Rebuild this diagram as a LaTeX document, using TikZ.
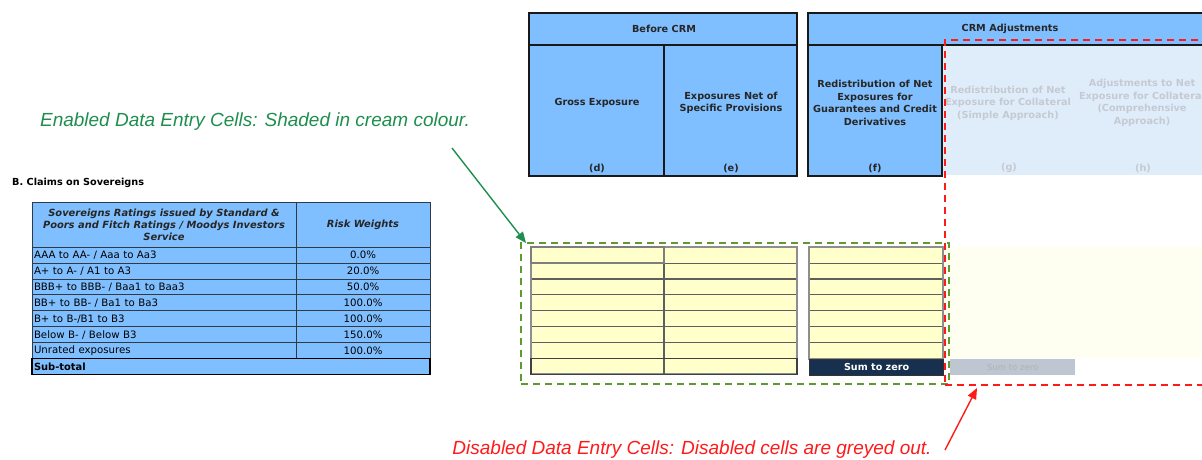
\documentclass[tikz,border=0pt]{standalone}
\usepackage{fontspec}
\newfontfamily\tabfont{DejaVu Sans}
\newfontfamily\notefont{Liberation Sans}
\usetikzlibrary{arrows.meta}
\definecolor{hdrblue}{HTML}{80BFFF}
\definecolor{cream}{HTML}{FFFFCC}
\definecolor{paleblue}{HTML}{DFEDFB}
\definecolor{palecream}{HTML}{FEFEF1}
\definecolor{greytxt}{HTML}{C5CAD2}
\definecolor{navy}{HTML}{17304F}
\definecolor{greycell}{HTML}{BEC6D2}
\definecolor{olive}{HTML}{5E9A30}
\definecolor{notegreen}{HTML}{1E8E4E}
\definecolor{notered}{HTML}{FF1A1A}
\definecolor{gridgrey}{HTML}{5E5E5E}
\definecolor{tabline}{HTML}{2E3A48}
\begin{document}
\begin{tikzpicture}[x=1pt,y=-1pt,
  hdrbox/.style={draw=black!90, line width=1.3pt, fill=hdrblue, anchor=north west,
    inner sep=0pt, outer sep=0pt},
  hdrtxt/.style={font=\tabfont\bfseries\fontsize{9.7}{12.6}\selectfont, align=center,
    inner sep=0pt, text=black!85},
  offtxt/.style={hdrtxt, text=greytxt},
  creamcell/.style={draw=gridgrey, line width=1.1pt, fill=cream, anchor=north west,
    inner sep=0pt, outer sep=0pt, minimum height=15.9pt},
  rowlbl/.style={draw=tabline, line width=0.9pt, fill=hdrblue, anchor=north west,
    inner xsep=2pt, inner ysep=0pt, outer sep=0pt, minimum height=15.9pt,
    text width=260pt, align=left, font=\tabfont\fontsize{10.2}{11}\selectfont},
  rowval/.style={draw=tabline, line width=0.9pt, fill=hdrblue, anchor=north west,
    inner sep=0pt, outer sep=0pt, minimum height=15.9pt, minimum width=134pt,
    font=\tabfont\fontsize{10.2}{11}\selectfont},
  note/.style={font=\notefont\itshape\fontsize{19}{22}\selectfont, inner sep=0pt},
  greenbox/.style={draw=olive, line width=1.5pt, dash pattern=on 7pt off 5pt},
  redbox/.style={draw=notered, line width=1.6pt, dash pattern=on 7pt off 5pt},
  callout/.style={line width=1.4pt, -{Triangle[length=11pt,width=9pt]}}
]
\useasboundingbox (0,0) rectangle (1202,460);

% ---------- column headers ----------
\node[hdrbox, minimum width=268pt, minimum height=32pt] (bcrm) at (529,13) {};
\node[hdrtxt] (bcrmtxt) at (664,29) {Before CRM};
\node[hdrbox, minimum width=135pt, minimum height=131pt] (colD) at (529,45) {};
\node[hdrbox, minimum width=133pt, minimum height=131pt] (colE) at (664,45) {};
\node[hdrtxt] (dtxt) at (597,103) {Gross Exposure};
\node[hdrtxt] (etxt) at (731,103) {Exposures Net of\\Specific Provisions};
\node[hdrtxt] (dlab) at (597,168) {(d)};
\node[hdrtxt] (elab) at (731,168) {(e)};

% CRM adjustments block (runs past the right edge)
\fill[paleblue] (942,45) rectangle (1215,175);
\node[hdrbox, minimum width=410pt, minimum height=32pt] (crm) at (808,13) {};
\node[hdrtxt] (crmtxt) at (1010,29) {CRM Adjustments};
\node[hdrbox, minimum width=134pt, minimum height=131pt] (colF) at (808,45) {};
\node[hdrtxt] (ftxt) at (875,103) {Redistribution of Net\\Exposures for\\Guarantees and Credit\\Derivatives};
\node[hdrtxt] (flab) at (875,168) {(f)};
\node[offtxt] (gtxt) at (1008,103) {Redistribution of Net\\Exposure for Collateral\\(Simple Approach)};
\node[offtxt] (glab) at (1009,168) {(g)};
\node[offtxt] (htxt) at (1142,103) {Adjustments to Net\\Exposure for Collateral\\(Comprehensive\\Approach)};
\node[offtxt] (hlab) at (1143,168) {(h)};

% ---------- risk weight table ----------
\node[font=\tabfont\bfseries\fontsize{9.7}{11}\selectfont, anchor=west, inner sep=0pt] (sect) at (12,183) {B. Claims on Sovereigns};
\node[draw=tabline, line width=1pt, fill=hdrblue, anchor=north west, inner sep=0pt,
  minimum width=264pt, minimum height=45.2pt] (rhdrA) at (32,202) {};
\node[draw=tabline, line width=1pt, fill=hdrblue, anchor=north west, inner sep=0pt,
  minimum width=134pt, minimum height=45.2pt] (rhdrB) at (296,202) {};
\node[hdrtxt, font=\tabfont\bfseries\itshape\fontsize{9.9}{12}\selectfont] (rhdrAtxt) at (164,225) {Sovereigns Ratings issued by Standard \&\\Poors and Fitch Ratings / Moodys Investors\\Service};
\node[hdrtxt, font=\tabfont\bfseries\itshape\fontsize{9.9}{12}\selectfont] (rhdrBtxt) at (363,225) {Risk Weights};
\foreach \lbl/\val [count=\r] in {{AAA to AA- / Aaa to Aa3}/0.0\%, {A+ to A- / A1 to A3}/20.0\%,
    {BBB+ to BBB- / Baa1 to Baa3}/50.0\%, {BB+ to BB- / Ba1 to Ba3}/100.0\%,
    {B+ to B-/B1 to B3}/100.0\%, {Below B- / Below B3}/150.0\%, {Unrated exposures}/100.0\%} {
  \pgfmathsetmacro\yy{247.2+(\r-1)*15.9}
  \node[rowlbl] (rl\r) at (32,\yy) {\lbl};
  \node[rowval] (rv\r) at (296,\yy) {\val};
}
\node[rowlbl, draw=black, line width=1.6pt, text width=394pt, font=\tabfont\bfseries\fontsize{9.9}{11}\selectfont] (rsub) at (32,358.5) {Sub-total};

% ---------- data entry cells ----------
\fill[palecream] (943,247) rectangle (1215,358);
\foreach \r in {1,...,8} {
  \pgfmathsetmacro\yy{247.2+(\r-1)*15.9}
  \node[creamcell, minimum width=133pt] (d\r) at (531,\yy) {};
  \node[creamcell, minimum width=133pt] (e\r) at (664,\yy) {};
}
\foreach \r in {1,...,7} {
  \pgfmathsetmacro\yy{247.2+(\r-1)*15.9}
  \node[creamcell, minimum width=134pt] (f\r) at (809,\yy) {};
}
\draw[gridgrey!70, line width=2pt] (d1.north west) rectangle (e8.south east);
\draw[black!75, line width=1.3pt] (d8.north west) rectangle (e8.south east);
\draw[gridgrey, line width=1.1pt] (e8.north west) -- (e8.south west);
\draw[gridgrey!80, line width=2.2pt] (d1.north west) rectangle (d1.south east);
\draw[gridgrey!70, line width=2pt] (f1.north west) rectangle (f7.south east);
\node[draw=black!80, line width=1.2pt, fill=navy, anchor=north west, inner sep=0pt,
  minimum width=134pt, minimum height=16.2pt, text=white,
  font=\tabfont\bfseries\fontsize{9.6}{11}\selectfont] (fsum) at (809,358.5) {Sum to zero};
\node[fill=greycell, anchor=north west, inner sep=0pt, minimum width=125pt,
  minimum height=16pt, text=black!30, font=\tabfont\fontsize{8.5}{10}\selectfont] (gsum) at (950,359) {Sum to zero};

% ---------- call-out frames ----------
\node[greenbox, anchor=north west, inner sep=0pt, minimum width=428pt, minimum height=141pt] (enabledzone) at (520,242) {};
\node[redbox, anchor=north west, inner sep=0pt, minimum width=290pt, minimum height=345pt] (disabledzone) at (944,39) {};

% ---------- notes ----------
\node[note, text=notegreen] (enabled) at (255,122) {Enabled Data Entry Cells: Shaded in cream colour.};
\node[note, text=notered] (disabled) at (692,450) {Disabled Data Entry Cells: Disabled cells are greyed out.};
\coordinate (gstart) at (452,148);
\coordinate (gtip) at (526,243);
\coordinate (rstart) at (945,450);
\coordinate (rtip) at (977,388);
\draw[callout, notegreen] (gstart) -- (gtip);
\draw[callout, notered] (rstart) -- (rtip);
\end{tikzpicture}
\end{document}
